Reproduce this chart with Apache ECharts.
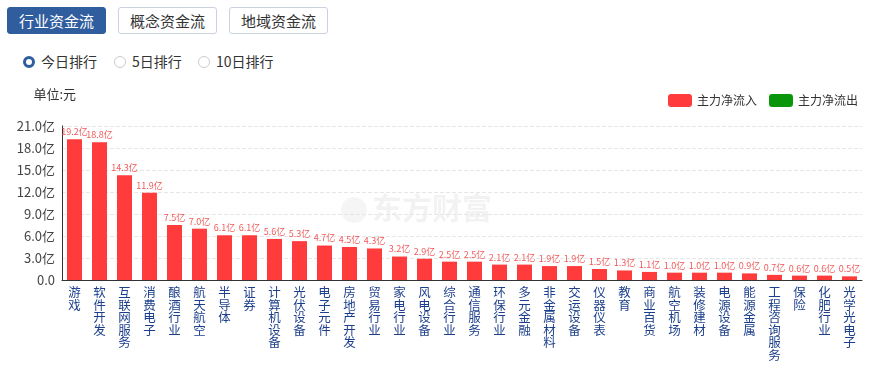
<!DOCTYPE html>
<html><head><meta charset="utf-8">
<script src="https://cdn.jsdelivr.net/npm/echarts@6/dist/echarts.min.js"></script>
<style>
html,body{margin:0;padding:0;background:#fff;font-family:"Noto Sans CJK SC",sans-serif;}
#wrap{position:relative;width:875px;height:368px;overflow:hidden;}
.btn{position:absolute;top:7px;height:27px;width:99px;border:1px solid #c9d3e0;border-radius:3px;box-sizing:border-box;text-align:center;line-height:25px;font-size:15px;color:#333;background:#fff;}
.btn.on{background:#2f5d9e;color:#fff;border-color:#2f5d9e;}
.radio{position:absolute;top:52px;font-size:14px;color:#333;line-height:18px;}
.radio i{display:inline-block;width:10px;height:10px;border-radius:50%;border:1px solid #ccc;vertical-align:-1px;margin-right:6px;box-sizing:content-box;}
.radio.on i{border:3px solid #2f5d9e;width:6px;height:6px;}
#chart{position:absolute;left:0;top:80px;width:875px;height:288px;}
</style></head><body>
<div id="wrap">
<div class="btn on" style="left:7px">行业资金流</div>
<div class="btn" style="left:118px">概念资金流</div>
<div class="btn" style="left:229px">地域资金流</div>
<div class="radio on" style="left:23px"><i></i>今日排行</div>
<div class="radio" style="left:114px"><i></i>5日排行</div>
<div class="radio" style="left:198px"><i></i>10日排行</div>
<div id="chart"></div>
</div>
<script>
const categories = ["游戏","软件开发","互联网服务","消费电子","酿酒行业","航天航空","半导体","证券","计算机设备","光伏设备","电子元件","房地产开发","贸易行业","家电行业","风电设备","综合行业","通信服务","环保行业","多元金融","非金属材料","交运设备","仪器仪表","教育","商业百货","航空机场","装修建材","电源设备","能源金属","工程咨询服务","保险","化肥行业","光学光电子"];
const inflow = [19.2,18.8,14.3,11.9,7.5,7.0,6.1,6.1,5.6,5.3,4.7,4.5,4.3,3.2,2.9,2.5,2.5,2.1,2.1,1.9,1.9,1.5,1.3,1.1,1.0,1.0,1.0,0.9,0.7,0.6,0.6,0.5];
const outflow = [];
const yMax = 21, yStep = 3;

const chart = echarts.init(document.getElementById('chart'));
chart.setOption({
  animation:false,
  textStyle:{fontFamily:'"Noto Sans CJK SC", sans-serif'},
  graphic:[
    {type:'circle',left:341,top:117,z:0,shape:{r:13},style:{fill:'rgba(0,0,0,0.04)'}},
    {type:'text',left:372,top:113,z:0,style:{text:'东方财富',font:'bold 30px "Noto Sans CJK SC"',fill:'rgba(0,0,0,0.05)'}}],
  legend:{right:12,top:9,itemWidth:24,itemHeight:13,itemGap:12,textStyle:{fontSize:12,color:'#333'},
    data:[{name:'主力净流入',icon:'roundRect'},{name:'主力净流出',icon:'roundRect'}]},
  grid:{left:62,right:13,top:46,bottom:88},
  xAxis:{type:'category',data:categories,
    axisLine:{lineStyle:{color:'#333'}},axisTick:{show:false},
    axisLabel:{interval:0,color:'#1c3f8c',fontSize:12.5,lineHeight:12.5,margin:6,
      formatter:v=>v.split('').join('\n')}},
  yAxis:{type:'value',min:0,max:yMax,interval:yStep,name:'单位:元',
    nameTextStyle:{color:'#333',fontSize:13,align:'right',padding:[0,-14,10,0]},
    axisLine:{show:true,lineStyle:{color:'#333'}},axisTick:{show:false},
    axisLabel:{color:'#444',fontSize:13,margin:7,formatter:v=>v===0?'0.0':v.toFixed(1)+'亿'},
    splitLine:{lineStyle:{type:'dashed',color:'#e6e6e6'}}},
  series:[
    {name:'主力净流入',type:'bar',data:inflow,barWidth:15,itemStyle:{color:'#ff3b3b'},
     label:{show:true,position:'top',distance:3,fontSize:9,color:'#f05a5a',formatter:p=>p.value.toFixed(1)+'亿'}},
    {name:'主力净流出',type:'bar',data:outflow,barWidth:15,itemStyle:{color:'#0a960a'},barGap:'-100%'}
  ]
});
</script>
</body></html>
